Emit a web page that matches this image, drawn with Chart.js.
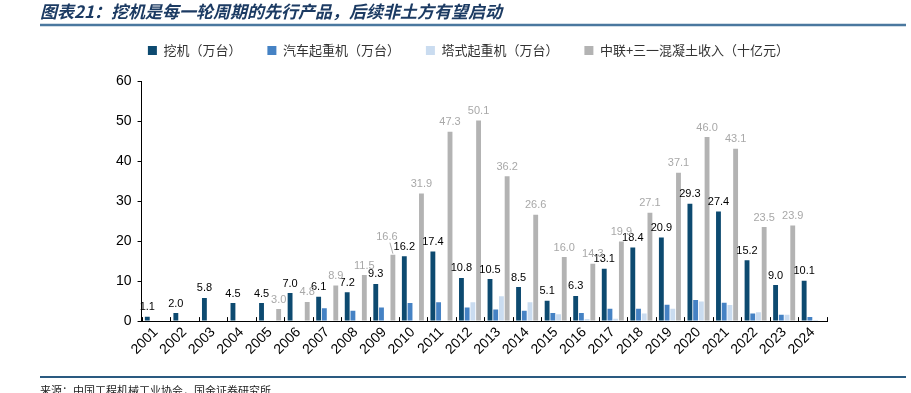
<!DOCTYPE html>
<html>
<head>
<meta charset="utf-8">
<script src="https://cdn.jsdelivr.net/npm/chart.js@4"></script>
<style>
  html, body { margin: 0; padding: 0; background: #fff; }
  #wrap { position: relative; width: 911px; height: 393px; }
</style>
</head>
<body>
<div id="wrap"><canvas id="chart" width="911" height="393"></canvas></div>
<script>
// 数据
const years = ['2001','2002','2003','2004','2005','2006','2007','2008','2009','2010','2011','2012',
               '2013','2014','2015','2016','2017','2018','2019','2020','2021','2022','2023','2024'];
const excavator = [1.1, 2.0, 5.8, 4.5, 4.5, 7.0, 6.1, 7.2, 9.3, 16.2, 17.4, 10.8,
                   10.5, 8.5, 5.1, 6.3, 13.1, 18.4, 20.9, 29.3, 27.4, 15.2, 9.0, 10.1];
const truckCrane = [null, null, null, null, null, null, 3.2, 2.6, 3.4, 4.5, 4.7, 3.4,
                    2.9, 2.6, 2.0, 2.0, 3.1, 3.1, 4.1, 5.3, 4.6, 1.9, 1.6, 1.0];
const towerCrane = [null, null, null, null, null, null, null, null, null, null, null, 4.7,
                    6.2, 4.7, 1.7, 0.5, 0.6, 1.9, 3.1, 4.9, 4.0, 2.2, 1.6, 0.3];
const concreteRev = [null, null, null, null, 3.0, 4.8, 8.9, 11.5, 16.6, 31.9, 47.3, 50.1,
                     36.2, 26.6, 16.0, 14.3, 19.9, 27.1, 37.1, 46.0, 43.1, 23.5, 23.9, null];
const yTicks = [0, 10, 20, 30, 40, 50, 60];

const titleText = '图表21：挖机是每一轮周期的先行产品，后续非土方有望启动';
const sourceText = '来源：中国工程机械工业协会，国金证券研究所';

const NUM_FONT = '"Liberation Sans", Arial, sans-serif';
const CJK_FONT = '"Noto Sans CJK SC", "Liberation Sans", sans-serif';

// 标题、分割线、来源
const framePlugin = {
  id: 'frame',
  afterDraw(chart) {
    const ctx = chart.ctx;
    ctx.save();
    ctx.fillStyle = '#1c3b63';
    ctx.font = 'italic bold 17px ' + CJK_FONT;
    ctx.textBaseline = 'middle';
    ctx.textAlign = 'left';
    ctx.fillText(titleText, 40, 12);
    ctx.strokeStyle = '#4a789f';
    ctx.lineWidth = 2.5;
    ctx.beginPath(); ctx.moveTo(40, 25); ctx.lineTo(906, 25); ctx.stroke();
    ctx.strokeStyle = '#2a5a80';
    ctx.lineWidth = 2;
    ctx.beginPath(); ctx.moveTo(40, 377); ctx.lineTo(906, 377); ctx.stroke();
    ctx.fillStyle = '#222';
    ctx.font = '11px ' + CJK_FONT;
    ctx.fillText(sourceText, 40, 391);
    ctx.restore();
  }
};

// 图例下方多留一点空间
const legendGap = {
  id: 'legendGap',
  beforeInit(chart) {
    const fit = chart.legend.fit;
    chart.legend.fit = function () {
      fit.bind(chart.legend)();
      this.height += 14;
    };
  }
};

// x轴向内的小刻度
const innerTicks = {
  id: 'innerTicks',
  afterDatasetsDraw(chart) {
    const xs = chart.scales.x;
    const n = years.length;
    const step = (xs.right - xs.left) / n;
    const ctx = chart.ctx;
    ctx.save();
    ctx.strokeStyle = '#000';
    ctx.lineWidth = 1;
    for (let i = 0; i <= n; i++) {
      const x = Math.round(xs.left + i * step) + 0.5;
      ctx.beginPath();
      ctx.moveTo(x, xs.top);
      ctx.lineTo(x, xs.top - 4);
      ctx.stroke();
    }
    ctx.restore();
  }
};

// 数值标签
const valueLabels = {
  id: 'valueLabels',
  afterDatasetsDraw(chart) {
    const ctx = chart.ctx;
    ctx.save();
    ctx.font = '11px ' + NUM_FONT;
    ctx.textAlign = 'center';
    ctx.textBaseline = 'bottom';
    [[0, '#000'], [3, '#a8a8a8']].forEach(([di, color]) => {
      const meta = chart.getDatasetMeta(di);
      const vals = chart.data.datasets[di].data;
      meta.data.forEach((bar, i) => {
        if (vals[i] == null) return;
        let x = bar.x, y = bar.y - 4;
        ctx.fillStyle = color;
        if (di === 3 && years[i] === '2009') {
          // 16.6 标签上移并加引线
          ctx.strokeStyle = '#999';
          ctx.lineWidth = 0.8;
          ctx.beginPath();
          ctx.moveTo(bar.x - 3, bar.y - 12);
          ctx.lineTo(bar.x, bar.y - 1);
          ctx.stroke();
          x = bar.x - 6;
          y = bar.y - 12;
        }
        ctx.fillText(vals[i].toFixed(1), x, y);
      });
    });
    ctx.restore();
  }
};

const ctx = document.getElementById('chart').getContext('2d');
new Chart(ctx, {
  type: 'bar',
  data: {
    labels: years,
    datasets: [
      { label: '挖机（万台）', data: excavator, backgroundColor: '#0d4a70' },
      { label: '汽车起重机（万台）', data: truckCrane, backgroundColor: '#4582c4' },
      { label: '塔式起重机（万台）', data: towerCrane, backgroundColor: '#cadcf0' },
      { label: '中联+三一混凝土收入（十亿元）', data: concreteRev, backgroundColor: '#b3b3b3' }
    ]
  },
  options: {
    responsive: false,
    devicePixelRatio: 1,
    animation: false,
    categoryPercentage: 0.8,
    barPercentage: 0.85,
    layout: { padding: { top: 18, left: 110, right: 84, bottom: 32 } },
    plugins: {
      legend: {
        position: 'top',
        labels: {
          boxWidth: 9,
          boxHeight: 9,
          padding: 26,
          color: '#333',
          font: { family: CJK_FONT, size: 13 }
        }
      },
      tooltip: { enabled: false }
    },
    scales: {
      x: {
        grid: { display: true, drawOnChartArea: false, drawTicks: false },
        border: { color: '#000', width: 1 },
        ticks: {
          color: '#000',
          font: { family: NUM_FONT, size: 14 },
          minRotation: 45,
          maxRotation: 45,
          padding: 3
        }
      },
      y: {
        min: 0,
        max: 60,
        afterBuildTicks(scale) { scale.ticks = yTicks.map(v => ({ value: v })); },
        grid: { drawOnChartArea: false, tickLength: 4, color: '#000' },
        border: { color: '#000', width: 1 },
        ticks: {
          color: '#000',
          font: { family: NUM_FONT, size: 14 },
          padding: 6
        }
      }
    }
  },
  plugins: [framePlugin, legendGap, innerTicks, valueLabels]
});
</script>
</body>
</html>
